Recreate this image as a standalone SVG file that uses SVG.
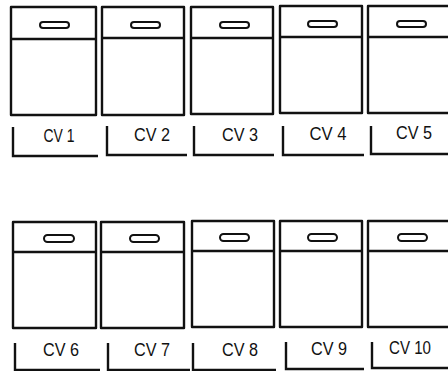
<svg xmlns="http://www.w3.org/2000/svg" width="448" height="371" viewBox="0 0 448 371">
<style>
.b{fill:none;stroke:#111;stroke-width:2.4;stroke-linejoin:round}
.s{fill:#fff;stroke:#111;stroke-width:2}
.l{fill:none;stroke:#111;stroke-width:2.4}
text{font-family:"Liberation Sans","DejaVu Sans",sans-serif;font-size:17.5px;fill:#111;text-anchor:middle}
</style>
<rect width="448" height="371" fill="#fff"/>
<g id="cv1"><rect class="b" x="11" y="7" width="85" height="108"/><line class="b" x1="11" y1="39" x2="96" y2="39"/><rect class="s" x="40" y="22" width="29" height="6" rx="3"/></g>
<g id="cv2"><rect class="b" x="102" y="7" width="82" height="108"/><line class="b" x1="102" y1="38" x2="184" y2="38"/><rect class="s" x="131" y="22" width="29" height="6" rx="3"/></g>
<g id="cv3"><rect class="b" x="191" y="7" width="82" height="107"/><line class="b" x1="191" y1="38" x2="273" y2="38"/><rect class="s" x="220" y="22" width="29" height="6" rx="3"/></g>
<g id="cv4"><rect class="b" x="280" y="6" width="82" height="107"/><line class="b" x1="280" y1="37" x2="362" y2="37"/><rect class="s" x="308" y="21" width="29" height="6" rx="3"/></g>
<g id="cv5"><rect class="b" x="368" y="6" width="90" height="107"/><line class="b" x1="368" y1="37" x2="450" y2="37"/><rect class="s" x="397" y="21" width="29" height="6" rx="3"/></g>
<g id="cv6"><rect class="b" x="13" y="222" width="83" height="106"/><line class="b" x1="13" y1="252" x2="96" y2="252"/><rect class="s" x="44" y="235" width="30" height="7" rx="3.5"/></g>
<g id="cv7"><rect class="b" x="101" y="222" width="83" height="106"/><line class="b" x1="101" y1="252" x2="184" y2="252"/><rect class="s" x="130" y="235" width="29" height="7" rx="3.5"/></g>
<g id="cv8"><rect class="b" x="192" y="221" width="82" height="106"/><line class="b" x1="192" y1="251" x2="274" y2="251"/><rect class="s" x="220" y="234" width="29" height="7" rx="3.5"/></g>
<g id="cv9"><rect class="b" x="280" y="221" width="82" height="106"/><line class="b" x1="280" y1="251" x2="362" y2="251"/><rect class="s" x="308" y="234" width="29" height="7" rx="3.5"/></g>
<g id="cv10"><rect class="b" x="368" y="221" width="90" height="106"/><line class="b" x1="368" y1="251" x2="450" y2="251"/><rect class="s" x="398" y="234" width="29" height="7" rx="3.5"/></g>
<g id="labels">
<polyline class="l" points="13,127 13,156 98,156"/><text x="59" y="142" textLength="31" lengthAdjust="spacingAndGlyphs">CV 1</text>
<polyline class="l" points="107,126 107,155 187,155"/><text x="152" y="141" textLength="36" lengthAdjust="spacingAndGlyphs">CV 2</text>
<polyline class="l" points="194,126 194,155 274,155"/><text x="240" y="141" textLength="36" lengthAdjust="spacingAndGlyphs">CV 3</text>
<polyline class="l" points="283,126 283,155 364,155"/><text x="328" y="140" textLength="37" lengthAdjust="spacingAndGlyphs">CV 4</text>
<polyline class="l" points="371,126 371,154 450,154"/><text x="414" y="139" textLength="36" lengthAdjust="spacingAndGlyphs">CV 5</text>
<polyline class="l" points="15,343 15,370 100,370"/><text x="61" y="356" textLength="36" lengthAdjust="spacingAndGlyphs">CV 6</text>
<polyline class="l" points="108,343 108,370 190,370"/><text x="152" y="356" textLength="36" lengthAdjust="spacingAndGlyphs">CV 7</text>
<polyline class="l" points="193,343 193,370 276,370"/><text x="240" y="356" textLength="36" lengthAdjust="spacingAndGlyphs">CV 8</text>
<polyline class="l" points="286,342 286,369 364,369"/><text x="329" y="355" textLength="36" lengthAdjust="spacingAndGlyphs">CV 9</text>
<polyline class="l" points="372,342 372,368 450,368"/><text x="410" y="354" textLength="42" lengthAdjust="spacingAndGlyphs">CV 10</text>
</g>
</svg>
